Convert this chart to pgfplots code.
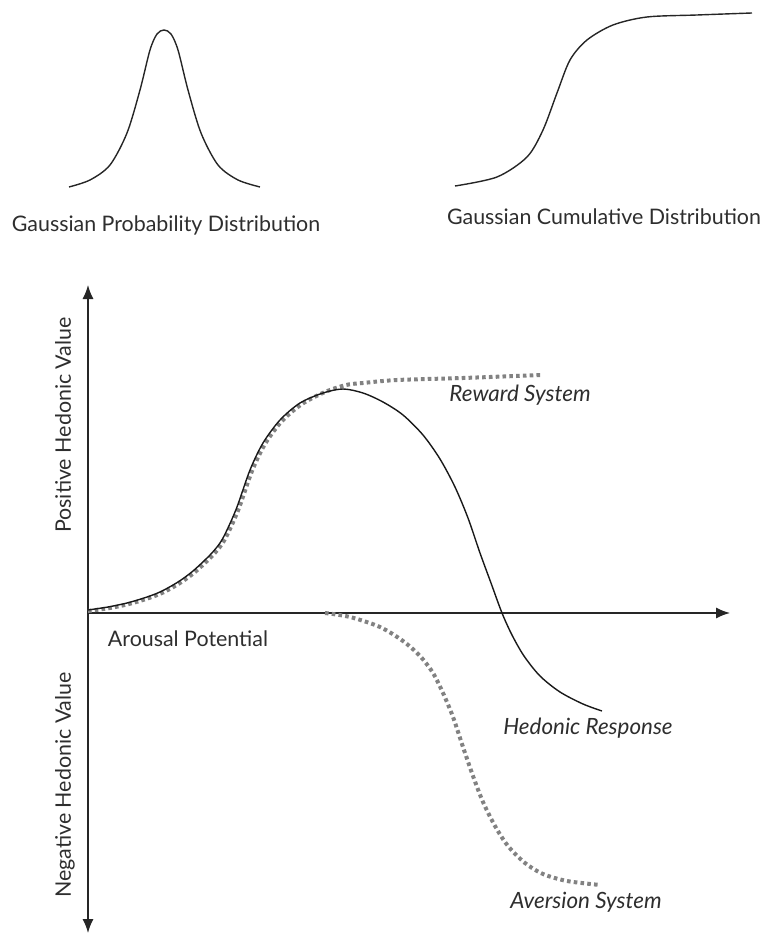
\documentclass[border=0pt]{standalone}
\usepackage{pgfplots}
\pgfplotsset{compat=1.18}
\usetikzlibrary{arrows.meta}
\usepackage{fontspec}
\setmainfont{Lato}
\definecolor{dotgray}{HTML}{828282}
\definecolor{txt}{HTML}{2E2E2E}
\newcommand{\lbl}{\fontsize{10.7}{12}\selectfont}
\newcommand{\ilbl}{\fontsize{11.2}{13}\selectfont\itshape}
\begin{document}
\begin{tikzpicture}
\useasboundingbox (0,0) rectangle (383.5pt,467pt);
% ---- top panels (pixel coordinates, Y = 934 - y) ----
\begin{axis}[at={(0pt,0pt)}, anchor=south west, x=0.5pt, y=0.5pt,
  xmin=0, xmax=767, ymin=0, ymax=934, hide axis, clip=false]
\addplot[black!85, line width=0.7pt, smooth] coordinates {
 (69,747) (90,754) (110,769) (127,801) (140,844) (150,884) (157,900) (164,904)
 (171,900) (178,884) (188,844) (201,801) (218,769) (238,754) (260,747)};
\addplot[black!85, line width=0.7pt, smooth] coordinates {
 (455,748) (497,757) (527,777) (543,804) (557,841) (570,874) (587,894)
 (613,909) (647,917) (697,919) (752,921)};
\node[txt, font=\lbl] at (axis cs:166,709) {Gaussian Probability Distribution};
\node[txt, font=\lbl] at (axis cs:604,717) {Gaussian Cumulative Distribution};
\end{axis}
% ---- main chart (X = x-88, Y = 613-y) ----
\begin{axis}[at={(44pt,0.5pt)}, anchor=south west, x=0.5pt, y=0.5pt,
  xmin=0, xmax=642, ymin=-320, ymax=328,
  axis lines=middle, xtick=\empty, ytick=\empty, clip=false,
  axis line style={line width=0.65pt, black!85},
  x axis line style={-{Latex[length=7pt,width=5.5pt]}},
  y axis line style={{Latex[length=7pt,width=5.5pt]}-{Latex[length=7pt,width=5.5pt]}}]
% Reward system (dotted)
\addplot[dotgray, line width=2pt, dash pattern=on 1.8pt off 1.6pt, smooth] coordinates {
 (0,2) (22,5) (41,9) (58,14) (74,20) (92,30) (107,41) (124,57) (134,69) (141,82)
 (151,105) (164,142) (177,169) (194,192) (214,209) (237,221) (258,228) (275,230)
 (309,233) (375,235) (454,238)};
% Aversion system (dotted)
\addplot[dotgray, line width=2pt, dash pattern=on 1.8pt off 1.6pt, smooth] coordinates {
 (237,0) (262,-4) (292,-14) (315,-28) (332,-43) (345,-60) (355,-80) (365,-104)
 (375,-134) (385,-163) (395,-189) (407,-213) (420,-233) (437,-250) (455,-261)
 (479,-268) (512,-272)};
% Hedonic response (solid)
\addplot[black!90, line width=0.7pt, smooth] coordinates {
 (0,3) (20,6) (39,10) (56,15) (72,21) (90,31) (105,42) (122,58) (132,70) (139,83)
 (149,106) (162,143) (175,170) (192,193) (212,210) (235,220) (255,224) (275,220)
 (295,211) (315,198) (335,178) (352,154) (367,126) (380,95) (392,60) (403,30)
 (414,0) (424,-22) (436,-43) (452,-63) (472,-79) (495,-91) (514,-98)};
\node[txt, font=\ilbl] at (axis cs:432,218) {Reward System};
\node[txt, font=\ilbl] at (axis cs:500,-115) {Hedonic Response};
\node[txt, font=\ilbl] at (axis cs:498,-289) {Aversion System};
\node[txt, font=\lbl] at (axis cs:100,-26) {Arousal Potential};
\node[txt, font=\lbl, rotate=90] at (axis cs:-25,188) {Positive Hedonic Value};
\node[txt, font=\lbl, rotate=90] at (axis cs:-23,-172) {Negative Hedonic Value};
\end{axis}
\end{tikzpicture}
\end{document}
